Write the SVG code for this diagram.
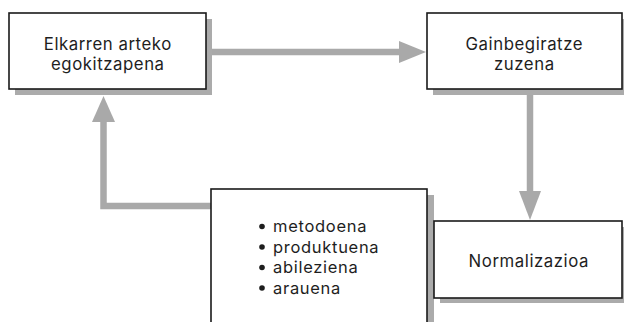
<svg xmlns="http://www.w3.org/2000/svg" width="624" height="322" viewBox="0 0 624 322">
<style>
.box{fill:#fff;stroke:#1a1a1a;stroke-width:1.6}
.shadow{fill:#ababab}
.lbl{font-family:Inter,"Open Sans",sans-serif;font-size:16.8px;letter-spacing:0.55px;fill:#1e1e1e;text-anchor:middle}
.item{font-family:Inter,"Open Sans",sans-serif;font-size:16.5px;letter-spacing:0.7px;fill:#1e1e1e}
.conn{fill:none;stroke:#a9a9a9;stroke-width:6.5}
.head{fill:#a9a9a9}
.dot{fill:#1e1e1e}
</style>
<rect width="624" height="322" fill="#fff"/>
<g id="connectors">
  <line class="conn" x1="212" y1="52" x2="400" y2="52"/>
  <polygon class="head" points="399,41 426,52 399,63"/>
  <line class="conn" x1="530" y1="94" x2="530" y2="192"/>
  <polygon class="head" points="519,191 541,191 530,220"/>
  <polyline class="conn" points="212,206 103.5,206 103.5,121"/>
  <polygon class="head" points="92,122 115,122 103.5,96"/>
</g>
<g id="node-elkarren">
  <rect class="shadow" x="15" y="19" width="197" height="76"/>
  <rect class="box" x="9" y="13" width="197" height="76"/>
  <text class="lbl"><tspan x="107.8" y="49.5">Elkarren arteko</tspan><tspan x="107.8" y="70">egokitzapena</tspan></text>
</g>
<g id="node-gainbegiratze">
  <rect class="shadow" x="433" y="19" width="197" height="76"/>
  <rect class="box" x="427" y="13" width="195" height="76"/>
  <text class="lbl"><tspan x="524.3" y="49.5">Gainbegiratze</tspan><tspan x="524.3" y="70">zuzena</tspan></text>
</g>
<g id="node-metodoena">
  <rect class="shadow" x="217" y="195" width="217" height="140"/>
  <rect class="box" x="211" y="189" width="216" height="140"/>
  <circle class="dot" cx="262" cy="226.5" r="2.8"/>
  <circle class="dot" cx="262" cy="247" r="2.8"/>
  <circle class="dot" cx="262" cy="267.5" r="2.8"/>
  <circle class="dot" cx="262" cy="288" r="2.8"/>
  <text class="item"><tspan x="273" y="232">metodoena</tspan><tspan x="273" y="252.5">produktuena</tspan><tspan x="273" y="273">abileziena</tspan><tspan x="273" y="293.5">arauena</tspan></text>
</g>
<g id="node-normalizazioa">
  <rect class="shadow" x="440" y="227" width="190" height="76"/>
  <rect class="box" x="434" y="221" width="188" height="77"/>
  <text class="lbl" x="528.8" y="267">Normalizazioa</text>
</g>
</svg>
